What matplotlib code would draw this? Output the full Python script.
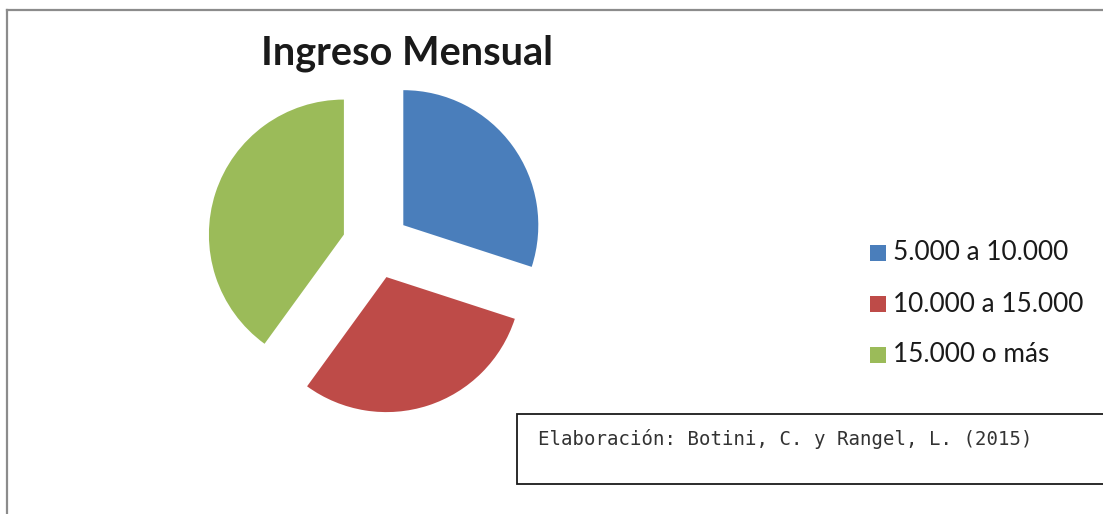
import matplotlib
matplotlib.use("Agg")
import matplotlib.pyplot as plt
from matplotlib.patches import Rectangle
from matplotlib.lines import Line2D

title = "Ingreso Mensual"
categories = ["5.000 a 10.000", "10.000 a 15.000", "15.000 o más"]
values = [30, 30, 40]
colors = ["#4A7EBB", "#BE4B48", "#9BBB59"]
source = "Elaboración: Botini, C. y Rangel, L. (2015)"

W, H = 1103, 514
fig = plt.figure(figsize=(W / 100, H / 100), dpi=100)

def fx(x):
    return x / W

def fy(y):
    return 1 - y / H

# outer chart frame (top and left visible)
fig.add_artist(Line2D([fx(7), fx(1110)], [fy(10), fy(10)], color="#8c8c8c", lw=1.6))
fig.add_artist(Line2D([fx(7), fx(7)], [fy(10), fy(520)], color="#8c8c8c", lw=1.6))

# pie axes: center (376,245) px, radius 135 px
cx, cy, r = 376, 245, 135
half = 175
ax = fig.add_axes([fx(cx - half), fy(cy + half), 2 * half / W, 2 * half / H])
ax.pie(values, colors=colors, startangle=90, counterclock=False,
       explode=[0.25] * len(values), radius=1,
       wedgeprops=dict(linewidth=0))
L = half / r
ax.set_xlim(-L, L)
ax.set_ylim(-L, L)
ax.set_aspect("equal")
ax.axis("off")

fig.text(fx(407), fy(53), title, ha="center", va="center",
         fontsize=28.5, fontweight="bold", family="Lato", color="#1a1a1a")

# legend
rows_y = [253, 304, 355]
for lab, col, yy in zip(categories, colors, rows_y):
    fig.add_artist(Rectangle((fx(870), fy(yy + 8)), 16 / W, 16 / H,
                             transform=fig.transFigure, facecolor=col, edgecolor="none"))
    fig.text(fx(893), fy(yy), lab, ha="left", va="center",
             fontsize=18.8, family="Lato", color="#1a1a1a")

# source box
fig.add_artist(Rectangle((fx(517), fy(484)), (1120 - 517) / W, 70 / H,
                         transform=fig.transFigure, facecolor="white",
                         edgecolor="#1a1a1a", lw=1.3))
fig.text(fx(538), fy(439), source, ha="left", va="center",
         fontsize=13.7, family="DejaVu Sans Mono", color="#333333")

fig.savefig("out.png", dpi=100)
